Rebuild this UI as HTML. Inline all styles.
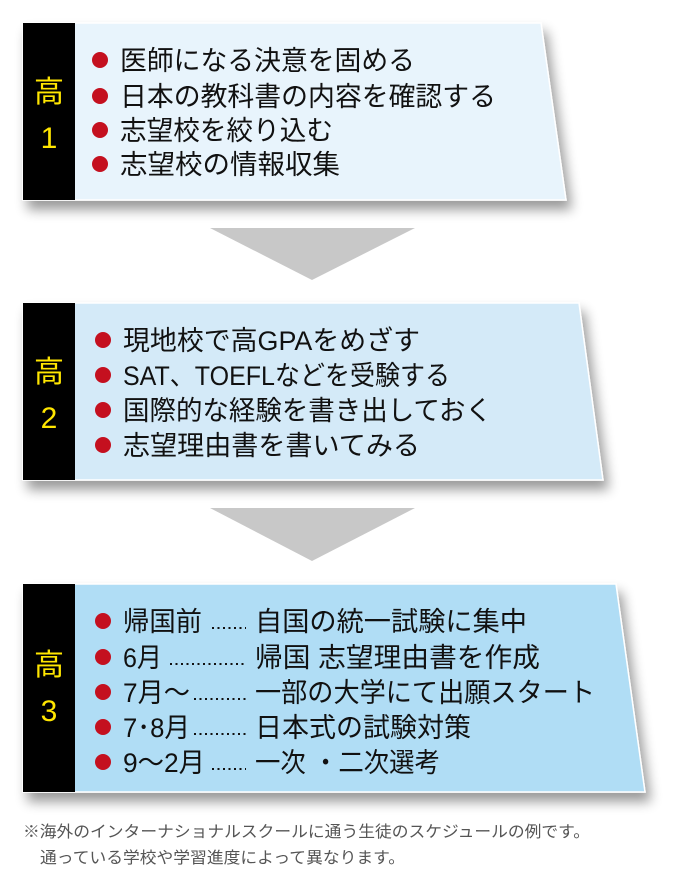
<!DOCTYPE html>
<html><head><meta charset="utf-8"><style>
html,body{margin:0;padding:0;background:#fff;}
svg{display:block;}
text{font-family:"Liberation Sans","Noto Sans CJK JP",sans-serif;}
</style></head><body>
<svg width="676" height="870" viewBox="0 0 676 870" xmlns="http://www.w3.org/2000/svg">
<defs>
<filter id="sh" x="-10%" y="-10%" width="130%" height="140%">
<feGaussianBlur in="SourceAlpha" stdDeviation="6"/>
<feOffset dx="5" dy="9" result="b"/>
<feComponentTransfer><feFuncA type="linear" slope="0.4"/></feComponentTransfer>
<feMerge><feMergeNode/><feMergeNode in="SourceGraphic"/></feMerge>
</filter>
</defs>
<!-- Box 1 -->
<g filter="url(#sh)">
<polygon points="23,23 541,23 566,200 23,200" fill="#e8f4fc" stroke="#fff" stroke-width="1.5"/>
</g>
<rect x="23" y="23" width="52" height="177" fill="#000"/>
<text x="49" y="102" font-size="30" fill="#ffe600" text-anchor="middle">高</text>
<text x="49" y="148" font-size="30" fill="#ffe600" text-anchor="middle">1</text>
<g fill="#c4101f"><circle cx="100" cy="60" r="8"/><circle cx="100" cy="96" r="8"/><circle cx="100" cy="130" r="8"/><circle cx="100" cy="164" r="8"/></g>
<g font-size="27" fill="#111">
<text x="120" y="70" textLength="295" lengthAdjust="spacingAndGlyphs">医師になる決意を固める</text>
<text x="120" y="106" textLength="376" lengthAdjust="spacingAndGlyphs">日本の教科書の内容を確認する</text>
<text x="120" y="140" textLength="213" lengthAdjust="spacingAndGlyphs">志望校を絞り込む</text>
<text x="120" y="174" textLength="220" lengthAdjust="spacingAndGlyphs">志望校の情報収集</text>
</g>
<polygon points="210,228 415,228 312,280" fill="#c8c8c8"/>

<!-- Box 2 -->
<g filter="url(#sh)">
<polygon points="23,303 579,303 603,480 23,480" fill="#d4eaf8" stroke="#fff" stroke-width="1.5"/>
</g>
<rect x="23" y="303" width="52" height="177" fill="#000"/>
<text x="49" y="382" font-size="30" fill="#ffe600" text-anchor="middle">高</text>
<text x="49" y="428" font-size="30" fill="#ffe600" text-anchor="middle">2</text>
<g fill="#c4101f"><circle cx="103" cy="340" r="8"/><circle cx="103" cy="375" r="8"/><circle cx="103" cy="410" r="8"/><circle cx="103" cy="445" r="8"/></g>
<g font-size="27" fill="#111">
<text x="123" y="350" textLength="297" lengthAdjust="spacingAndGlyphs">現地校で高GPAをめざす</text>
<text x="123" y="385" textLength="327" lengthAdjust="spacingAndGlyphs">SAT、TOEFLなどを受験する</text>
<text x="123" y="420" textLength="369" lengthAdjust="spacingAndGlyphs">国際的な経験を書き出しておく</text>
<text x="123" y="455" textLength="297" lengthAdjust="spacingAndGlyphs">志望理由書を書いてみる</text>
</g>
<polygon points="210,508 415,508 312,561" fill="#c8c8c8"/>

<!-- Box 3 -->
<g filter="url(#sh)">
<polygon points="23,584 616,584 645,792 23,792" fill="#b0ddf5" stroke="#fff" stroke-width="1.5"/>
</g>
<rect x="23" y="584" width="52" height="208" fill="#000"/>
<text x="49" y="675" font-size="30" fill="#ffe600" text-anchor="middle">高</text>
<text x="49" y="721" font-size="30" fill="#ffe600" text-anchor="middle">3</text>
<g fill="#c4101f"><circle cx="103" cy="621" r="8"/><circle cx="103" cy="657" r="8"/><circle cx="103" cy="692" r="8"/><circle cx="103" cy="727" r="8"/><circle cx="103" cy="762" r="8"/></g>
<g font-size="27" fill="#111">
<text x="123" y="631" textLength="79" lengthAdjust="spacingAndGlyphs">帰国前</text>
<text x="123" y="667" textLength="39" lengthAdjust="spacingAndGlyphs">6月</text>
<text x="123" y="702" textLength="67" lengthAdjust="spacingAndGlyphs">7月〜</text>
<text x="123" y="737" textLength="67" lengthAdjust="spacingAndGlyphs">7･8月</text>
<text x="123" y="772" textLength="82" lengthAdjust="spacingAndGlyphs">9〜2月</text>
<text x="255" y="631" textLength="272" lengthAdjust="spacingAndGlyphs">自国の統一試験に集中</text>
<text x="255" y="667" textLength="285" lengthAdjust="spacingAndGlyphs">帰国  志望理由書を作成</text>
<text x="255" y="702" textLength="340" lengthAdjust="spacingAndGlyphs">一部の大学にて出願スタート</text>
<text x="255" y="737" textLength="216" lengthAdjust="spacingAndGlyphs">日本式の試験対策</text>
<text x="255" y="772" textLength="185" lengthAdjust="spacingAndGlyphs">一次 ・二次選考</text>
</g>
<g stroke="#111" stroke-width="2" stroke-dasharray="2,3.5">
<line x1="212" y1="628" x2="246" y2="628"/>
<line x1="170" y1="664" x2="246" y2="664"/>
<line x1="194" y1="699" x2="246" y2="699"/>
<line x1="194" y1="734" x2="246" y2="734"/>
<line x1="212" y1="769" x2="246" y2="769"/>
</g>

<!-- footnote -->
<g font-size="16" fill="#555">
<text x="23" y="837" textLength="567" lengthAdjust="spacingAndGlyphs">※海外のインターナショナルスクールに通う生徒のスケジュールの例です。</text>
<text x="40" y="863" textLength="365" lengthAdjust="spacingAndGlyphs">通っている学校や学習進度によって異なります。</text>
</g>
</svg>
</body></html>
